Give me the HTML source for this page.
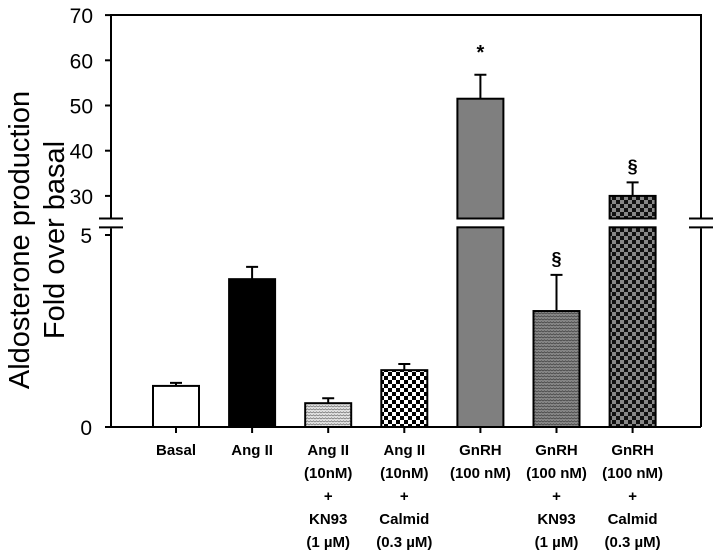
<!DOCTYPE html>
<html><head><meta charset="utf-8"><style>
html,body{margin:0;padding:0;background:#fff;width:714px;height:555px;overflow:hidden}
svg text{font-family:"Liberation Sans",sans-serif}
</style></head><body>
<svg id="chart" width="714" height="555" viewBox="0 0 714 555" xmlns="http://www.w3.org/2000/svg">
<defs>
<pattern id="pWhite" width="4" height="4" patternUnits="userSpaceOnUse"><rect width="4" height="4" fill="#fff"/></pattern>
<pattern id="pBlack" width="4" height="4" patternUnits="userSpaceOnUse"><rect width="4" height="4" fill="#000"/></pattern>
<pattern id="pWaveLight" width="6" height="3" patternUnits="userSpaceOnUse"><rect width="6" height="3" fill="#e6e6e6"/><path d="M0 2 L1.5 0.8 L3 2 L4.5 0.8 L6 2" stroke="#777" stroke-width="0.8" fill="none"/></pattern>
<pattern id="pCheck" width="8" height="8" patternUnits="userSpaceOnUse"><rect width="8" height="8" fill="#fff"/><rect width="4" height="4" fill="#000"/><rect x="4" y="4" width="4" height="4" fill="#000"/></pattern>
<pattern id="pGray" width="4" height="4" patternUnits="userSpaceOnUse"><rect width="4" height="4" fill="#7f7f7f"/></pattern>
<pattern id="pWaveDark" width="6" height="3" patternUnits="userSpaceOnUse"><rect width="6" height="3" fill="#8a8a8a"/><path d="M0 2 L1.5 0.8 L3 2 L4.5 0.8 L6 2" stroke="#444" stroke-width="0.8" fill="none"/></pattern>
<pattern id="pCheckDark" width="8" height="8" patternUnits="userSpaceOnUse"><rect width="8" height="8" fill="#888"/><rect width="4" height="4" fill="#111"/><rect x="4" y="4" width="4" height="4" fill="#111"/></pattern>
</defs>
</svg>
<script>
const categories = [
  ["Basal"],
  ["Ang II"],
  ["Ang II","(10nM)","+","KN93","(1 µM)"],
  ["Ang II","(10nM)","+","Calmid","(0.3 µM)"],
  ["GnRH","(100 nM)"],
  ["GnRH","(100 nM)","+","KN93","(1 µM)"],
  ["GnRH","(100 nM)","+","Calmid","(0.3 µM)"]
];
const values = [1.07, 3.85, 0.62, 1.48, 51.5, 3.02, 30];
const errors = [0.08, 0.32, 0.13, 0.16, 5.3, 0.94, 3.0];
const annotations = ["", "", "", "", "*", "§", "§"];
const lowerTicks = [0, 5];
const upperTicks = [30, 40, 50, 60, 70];
const fills = ["pWhite","pBlack","pWaveLight","pCheck","pGray","pWaveDark","pCheckDark"];

const NS = "http://www.w3.org/2000/svg";
const svg = document.getElementById('chart');
const X0 = 111, X1 = 701;
const lowBase = 427, lowPx = 38.4, lowMax = 5.2;
const upBase = 218.5, upMin = 25, upPx = 4.52;
function yLow(v){ return lowBase - v*lowPx; }
function yUp(v){ return upBase - (v-upMin)*upPx; }
function yVal(v){ return v <= lowMax ? yLow(v) : yUp(v); }
function xCat(i){ return 176 + i*76.1; }
const barW = 46;
function mk(tag, attrs, parent){
  const e = document.createElementNS(NS, tag);
  for (const k in attrs) e.setAttribute(k, attrs[k]);
  (parent||svg).appendChild(e);
  return e;
}
const lowTop = yLow(lowMax), upBot = yUp(upMin);

categories.forEach((c, i) => {
  const v = values[i], cx = xCat(i), x = cx - barW/2;
  const g = mk('g', {});
  
  
  if (v <= lowMax) {
    mk('rect', {x:x, y:yLow(v), width:barW, height:lowBase - yLow(v), fill:'url(#'+fills[i]+')', stroke:'#000', 'stroke-width':2}, g);
  } else {
    mk('rect', {x:x, y:lowTop, width:barW, height:lowBase - lowTop, fill:'url(#'+fills[i]+')', stroke:'#000', 'stroke-width':2}, g);
    mk('rect', {x:x, y:yUp(v), width:barW, height:upBot - yUp(v), fill:'url(#'+fills[i]+')', stroke:'#000', 'stroke-width':2}, g);
  }
  const yt = yVal(v), ye = yVal(v + errors[i]);
  const eb = mk('path', {d:`M${cx} ${yt} V${ye} M${cx-6} ${ye} H${cx+6}`, stroke:'#000', 'stroke-width':2, fill:'none'});
  
  
  if (annotations[i]) {
    const t = mk('text', {x:cx, y:ye - (annotations[i]==='*'?16:10), 'text-anchor':'middle', 'font-size': annotations[i]==='*'?20:18, 'font-weight':'bold'});
    t.textContent = annotations[i];
    
    
  }
  mk('line', {x1:cx, y1:lowBase, x2:cx, y2:lowBase+6, stroke:'#000', 'stroke-width':2});
  const lt = mk('text', {x:cx, 'text-anchor':'middle', 'font-size':15, 'font-weight':'bold'});
  
  
  c.forEach((line, j) => {
    const ts = mk('tspan', {x:cx, y:455 + j*23}, lt);
    ts.textContent = line;
  });
});

const ax = mk('path', {d:`M${X0} ${lowBase} V${lowTop+1} M${X0} ${upBot-1} V15 H${X1} V${upBot-1} M${X1} ${lowTop+1} V${lowBase} M${X0-6} ${lowBase} H${X1}`, stroke:'#000', 'stroke-width':2, fill:'none'});


[X0, X1].forEach(x => {
  mk('path', {d:`M${x-12} ${upBot} H${x+12} M${x-12} ${lowTop} H${x+12}`, stroke:'#000', 'stroke-width':2});
});
lowerTicks.forEach(t => {
  const y = yLow(t);
  mk('line', {x1:X0-6, y1:y, x2:X0, y2:y, stroke:'#000', 'stroke-width':2});
  const tx = mk('text', {x:92, y:y+8, 'text-anchor':'end', 'font-size':21});
  tx.textContent = t;
  
  
});
upperTicks.forEach(t => {
  const y = yUp(t);
  mk('line', {x1:X0-6, y1:y, x2:X0, y2:y, stroke:'#000', 'stroke-width':2});
  const tx = mk('text', {x:93, y:y+8, 'text-anchor':'end', 'font-size':21});
  tx.textContent = t;
  
  
});
const yt = mk('text', {transform:'translate(29,240) rotate(-90)', 'text-anchor':'middle', 'font-size':29});


const t1 = mk('tspan', {x:0, y:0}, yt); t1.textContent = 'Aldosterone production';
const t2 = mk('tspan', {x:0, y:35}, yt); t2.textContent = 'Fold over basal';
</script>
</body></html>
